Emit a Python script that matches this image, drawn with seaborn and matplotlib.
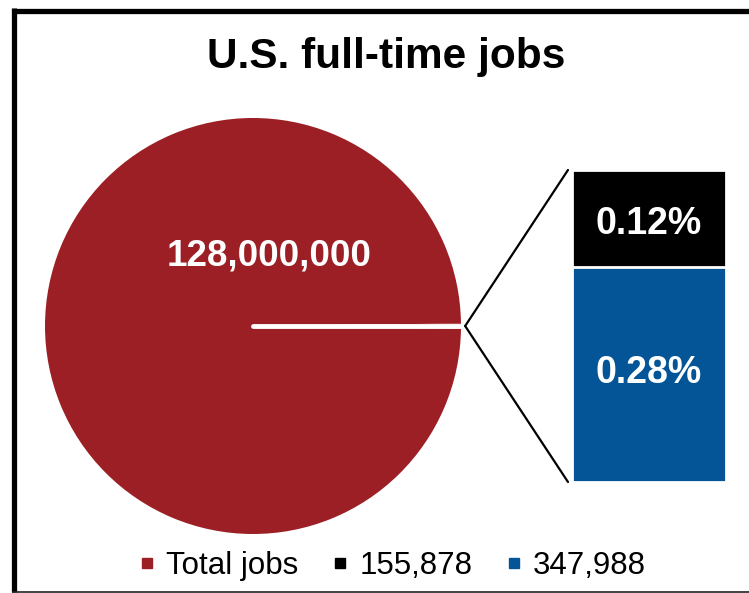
import matplotlib
matplotlib.use("Agg")
import matplotlib.pyplot as plt
from matplotlib.lines import Line2D
from matplotlib.patches import ConnectionPatch
import numpy as np
import seaborn as sns
import pandas as pd

# ---- data ----
title = "U.S. full-time jobs"
total_jobs = 128_000_000
bar_categories = ["155,878", "347,988"]
bar_values = [155_878, 347_988]
bar_pct_labels = ["0.12%", "0.28%"]
total_label = "128,000,000"
legend_labels = ["Total jobs", "155,878", "347,988"]

red = "#9B1F24"
black = "#000000"
blue = "#035597"

sns.set_theme(style="white")
plt.rcParams["font.family"] = ["Liberation Sans", "DejaVu Sans"]

W, H = 749, 593
fig = plt.figure(figsize=(W / 100, H / 100), dpi=100)
fig.patch.set_facecolor("white")

def px_axes(x0, y0, x1, y1):
    return fig.add_axes([x0 / W, 1 - y1 / H, (x1 - x0) / W, (y1 - y0) / H])

# ---- pie ----
cx, cy, r = 253, 326, 208
ax_pie = px_axes(cx - r, cy - r, cx + r, cy + r)
other = sum(bar_values)
ang = other / (total_jobs + other) * 360
wedges, _ = ax_pie.pie([other, total_jobs], colors=[red, red], startangle=-ang / 2,
                       counterclock=True, radius=1,
                       wedgeprops=dict(linewidth=0))
# separator along the bisector of the "other" slice
w0 = wedges[0]
mid = np.deg2rad((w0.theta1 + w0.theta2) / 2)
ax_pie.plot([0, np.cos(mid) * 1.01], [0, np.sin(mid) * 1.01], color="white",
            linewidth=3.5, solid_capstyle="round")
ax_pie.set_xlim(-1, 1)
ax_pie.set_ylim(-1, 1)
ax_pie.set_aspect("equal")
ax_pie.axis("off")
ax_pie.text(0.077, 0.335, total_label, color="white", fontsize=26.5,
            fontweight="bold", ha="center", va="center")

# ---- stacked bar ----
ax_bar = px_axes(572, 170, 726, 482)
cum_top = bar_values[0] + bar_values[1]
df_top = pd.DataFrame({"x": [""], "y": [cum_top]})
df_bot = pd.DataFrame({"x": [""], "y": [bar_values[1]]})
sns.barplot(data=df_top, x="x", y="y", color=black, width=1.0, ax=ax_bar,
            edgecolor="white", linewidth=2, saturation=1)
sns.barplot(data=df_bot, x="x", y="y", color=blue, width=1.0, ax=ax_bar,
            edgecolor="white", linewidth=2, saturation=1)
ax_bar.set_xlim(-0.5, 0.5)
ax_bar.set_ylim(0, cum_top)
ax_bar.axis("off")
ax_bar.text(0, bar_values[1] + bar_values[0] * 0.44, bar_pct_labels[0], color="white",
            fontsize=27, fontweight="bold", ha="center", va="center")
ax_bar.text(0, bar_values[1] * 0.505, bar_pct_labels[1], color="white",
            fontsize=27, fontweight="bold", ha="center", va="center")

# ---- connector lines ----
for yb in (1.0, 0.0):
    con = ConnectionPatch(xyA=(1.02, 0), coordsA=ax_pie.transData,
                          xyB=(-0.026, yb), coordsB=ax_bar.transAxes,
                          color="black", linewidth=1.6)
    fig.add_artist(con)

# ---- title ----
fig.text(386 / W, 1 - 57 / H, title, fontsize=30.5, fontweight="bold",
         ha="center", va="center", color="black")

# ---- legend ----
handles = [Line2D([], [], marker="s", linestyle="none", markersize=7.2,
                  color=c) for c in (red, black, blue)]
leg = fig.legend(handles, legend_labels, loc="center",
                 bbox_to_anchor=(392 / W, 1 - 566 / H), ncol=3, frameon=False,
                 fontsize=22.5, handlelength=0.6, handletextpad=0.3,
                 columnspacing=1.05, borderpad=0)
for t in leg.get_texts():
    t.set_color("black")

# ---- frame ----
fig.add_artist(Line2D([13.5 / W, 13.5 / W], [1 - 7.5 / H, 1 - 592 / H],
                      transform=fig.transFigure, color="black", linewidth=3.8,
                      solid_capstyle="butt"))
fig.add_artist(Line2D([11.5 / W, 1], [1 - 10.5 / H, 1 - 10.5 / H],
                      transform=fig.transFigure, color="black", linewidth=3.8,
                      solid_capstyle="butt"))
fig.add_artist(Line2D([11.5 / W, 1], [1 - 591.5 / H, 1 - 591.5 / H],
                      transform=fig.transFigure, color="#222222", linewidth=1.2,
                      solid_capstyle="butt"))

fig.savefig("out.png", dpi=100, facecolor="white")
